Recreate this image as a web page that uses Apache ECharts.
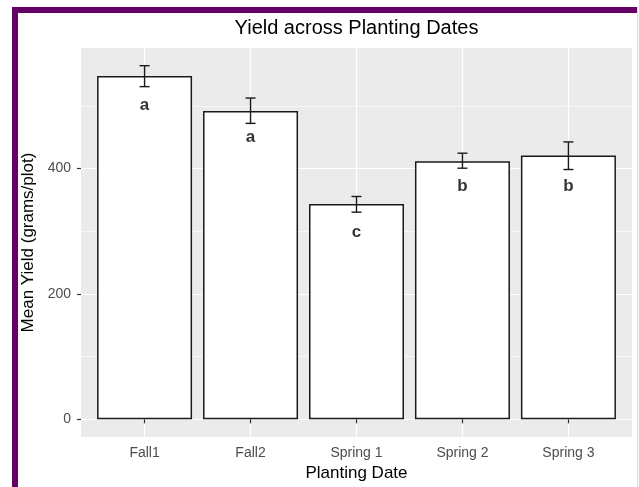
<!DOCTYPE html>
<html>
<head>
<meta charset="utf-8">
<script src="https://cdn.jsdelivr.net/npm/echarts@6/dist/echarts.min.js"></script>
<style>
  html, body { margin: 0; padding: 0; background: #fff; }
  #chart { width: 639px; height: 487px; }
</style>
</head>
<body>
<div id="chart"></div>
<script>
  // values
  var categories = ['Fall1', 'Fall2', 'Spring 1', 'Spring 2', 'Spring 3'];
  var means = [547.5, 491.7, 343.6, 411.6, 420.7];
  var errLow = [530.6, 472, 330.4, 400.5, 398.4];
  var errHigh = [564, 512.4, 355.4, 424.4, 442.4];
  var letters = ['a', 'a', 'c', 'b', 'b'];
  var letterY = [500, 449, 299, 372, 372];
  var yBreaks = [0, 200, 400];
  var yMinor = [100, 300, 500];

  var xPos = categories.map(function (c, i) { return i + 1; });
  var fontFam = '"Liberation Sans", Arial, sans-serif';

  var chart = echarts.init(document.getElementById('chart'));
  chart.setOption({
    animation: false,
    textStyle: { fontFamily: fontFam },
    title: {
      text: 'Yield across Planting Dates',
      left: 356.5,
      top: 18,
      padding: 0,
      textAlign: 'center',
      textStyle: { fontSize: 20, fontWeight: 'normal', color: '#000', fontFamily: fontFam }
    },
    graphic: [
      { type: 'rect', shape: { x: 12, y: 7, width: 6, height: 480 }, style: { fill: '#660066' } },
      { type: 'rect', shape: { x: 12, y: 7, width: 626, height: 6 }, style: { fill: '#660066' } },
      { type: 'rect', shape: { x: 637, y: 7, width: 1, height: 480 }, style: { fill: '#e3d6e3' } }
    ],
    grid: {
      left: 81, top: 48, width: 551, height: 389,
      show: true, backgroundColor: '#EBEBEB', borderWidth: 0
    },
    xAxis: {
      type: 'value',
      min: 0.4,
      max: 5.6,
      name: 'Planting Date',
      nameLocation: 'middle',
      nameGap: 28,
      nameTextStyle: { fontSize: 17, color: '#000' },
      axisLine: { show: false },
      axisTick: { show: true, length: 4, customValues: xPos, lineStyle: { color: '#333', width: 1.2 } },
      axisLabel: {
        customValues: xPos,
        margin: 9,
        fontSize: 14,
        color: '#4D4D4D',
        formatter: function (v) { return categories[Math.round(v) - 1]; }
      },
      splitLine: { show: true, lineStyle: { color: '#fff', width: 1.2 } }
    },
    yAxis: [{
      type: 'value',
      min: -28.2,
      max: 592.2,
      name: 'Mean Yield (grams/plot)',
      nameLocation: 'middle',
      nameGap: 40,
      nameTextStyle: { fontSize: 17, color: '#000' },
      axisLine: { show: false },
      axisTick: { show: true, length: 4, customValues: yBreaks, lineStyle: { color: '#333', width: 1.2 } },
      axisLabel: { customValues: yBreaks, margin: 10, fontSize: 14, color: '#4D4D4D' },
      splitLine: { show: true, lineStyle: { color: '#fff', width: 1.2 } }
    }, {
      type: 'value',
      min: -28.2,
      max: 592.2,
      position: 'left',
      axisLine: { show: false },
      axisTick: { show: false, customValues: yMinor },
      axisLabel: { show: false, customValues: yMinor },
      splitLine: { show: true, lineStyle: { color: '#fff', width: 0.6 } }
    }],
    series: [{
      type: 'bar',
      barWidth: 95,
      data: xPos.map(function (x, i) { return [x, means[i]]; }),
      itemStyle: { color: '#fff', borderColor: '#1a1a1a', borderWidth: 1.5 },
      z: 2
    }, {
      type: 'custom',
      data: xPos.map(function (x, i) { return [x, errLow[i], errHigh[i]]; }),
      renderItem: function (params, api) {
        var lo = api.coord([api.value(0), api.value(1)]);
        var hi = api.coord([api.value(0), api.value(2)]);
        var hw = 5;
        var st = { stroke: '#1a1a1a', lineWidth: 1.4 };
        return {
          type: 'group',
          children: [
            { type: 'line', shape: { x1: lo[0], y1: lo[1], x2: hi[0], y2: hi[1] }, style: st },
            { type: 'line', shape: { x1: lo[0] - hw, y1: lo[1], x2: lo[0] + hw, y2: lo[1] }, style: st },
            { type: 'line', shape: { x1: hi[0] - hw, y1: hi[1], x2: hi[0] + hw, y2: hi[1] }, style: st }
          ]
        };
      },
      z: 3
    }, {
      type: 'scatter',
      symbolSize: 0,
      data: xPos.map(function (x, i) { return [x, letterY[i]]; }),
      label: {
        show: true,
        position: 'inside',
        fontSize: 17,
        fontWeight: 'bold',
        color: '#000',
        textBorderWidth: 0,
        formatter: function (p) { return letters[p.dataIndex]; }
      },
      z: 4
    }]
  });
</script>
</body>
</html>
